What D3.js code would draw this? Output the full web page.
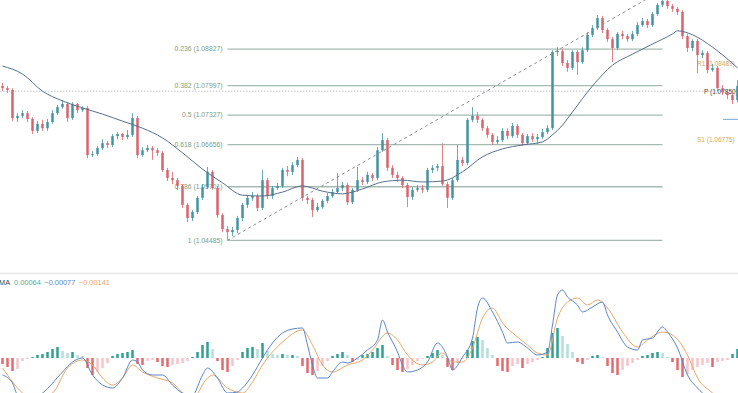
<!DOCTYPE html>
<html><head><meta charset="utf-8">
<script src="https://cdn.jsdelivr.net/npm/d3@7"></script>
<style>html,body{margin:0;padding:0;background:#fff;overflow:hidden}svg{display:block;font-family:Arial,"Liberation Sans",sans-serif}</style>
</head><body><svg id="c" width="738" height="393"></svg>
<script>
const opens = [1.0799,1.0794,1.0790,1.0726,1.0731,1.0737,1.0724,1.0697,1.0713,1.0703,1.0717,1.0737,1.0751,1.0758,1.0726,1.0758,1.0744,1.0749,1.0642,1.0644,1.0658,1.0669,1.0665,1.0685,1.0690,1.0683,1.0688,1.0726,1.0642,1.0653,1.0658,1.0653,1.0647,1.0608,1.0590,1.0585,1.0572,1.0529,1.0499,1.0513,1.0545,1.0569,1.0604,1.0567,1.0506,1.0474,1.0467,1.0472,1.0499,1.0529,1.0545,1.0549,1.0522,1.0585,1.0549,1.0567,1.0572,1.0608,1.0604,1.0619,1.0631,1.0545,1.0540,1.0517,1.0524,1.0538,1.0549,1.0558,1.0567,1.0574,1.0535,1.0563,1.0585,1.0581,1.0597,1.0590,1.0653,1.0676,1.0613,1.0597,1.0590,1.0574,1.0547,1.0563,1.0567,1.0563,1.0608,1.0613,1.0617,1.0576,1.0545,1.0585,1.0631,1.0624,1.0722,1.0731,1.0722,1.0703,1.0688,1.0672,1.0676,1.0697,1.0685,1.0708,1.0688,1.0669,1.0685,1.0678,1.0683,1.0694,1.0703,1.0876,1.0878,1.0851,1.0840,1.0876,1.0853,1.0880,1.0915,1.0930,1.0953,1.0926,1.0905,1.0885,1.0917,1.0912,1.0905,1.0917,1.0937,1.0946,1.0937,1.0962,1.0983,1.0992,1.0980,1.0974,1.0967,1.0912,1.0885,1.0901,1.0869,1.0874,1.0835,1.0840,1.0794,1.0785,1.0778,1.0767];
const closes = [1.0794,1.0790,1.0726,1.0731,1.0737,1.0724,1.0697,1.0713,1.0703,1.0717,1.0737,1.0751,1.0758,1.0726,1.0758,1.0744,1.0749,1.0642,1.0644,1.0658,1.0669,1.0665,1.0685,1.0690,1.0683,1.0688,1.0726,1.0642,1.0653,1.0658,1.0653,1.0647,1.0608,1.0590,1.0585,1.0572,1.0529,1.0499,1.0513,1.0545,1.0569,1.0604,1.0567,1.0506,1.0474,1.0467,1.0472,1.0499,1.0529,1.0545,1.0549,1.0522,1.0585,1.0549,1.0567,1.0572,1.0608,1.0604,1.0619,1.0631,1.0545,1.0540,1.0517,1.0524,1.0538,1.0549,1.0558,1.0567,1.0574,1.0535,1.0563,1.0585,1.0581,1.0597,1.0590,1.0653,1.0676,1.0613,1.0597,1.0590,1.0574,1.0547,1.0563,1.0567,1.0563,1.0608,1.0613,1.0617,1.0576,1.0545,1.0585,1.0631,1.0624,1.0722,1.0731,1.0722,1.0703,1.0688,1.0672,1.0676,1.0697,1.0685,1.0708,1.0688,1.0669,1.0685,1.0678,1.0683,1.0694,1.0703,1.0876,1.0878,1.0851,1.0840,1.0876,1.0853,1.0880,1.0915,1.0930,1.0953,1.0926,1.0905,1.0885,1.0917,1.0912,1.0905,1.0917,1.0937,1.0946,1.0937,1.0962,1.0983,1.0992,1.0980,1.0974,1.0967,1.0912,1.0885,1.0901,1.0869,1.0874,1.0835,1.0840,1.0794,1.0785,1.0778,1.0767,1.0799];
const highs = [1.0806,1.0799,1.0794,1.0737,1.0744,1.0742,1.0728,1.0719,1.0722,1.0724,1.0744,1.0756,1.0767,1.0762,1.0762,1.0760,1.0753,1.0753,1.0651,1.0663,1.0678,1.0674,1.0690,1.0694,1.0692,1.0699,1.0737,1.0731,1.0660,1.0665,1.0663,1.0658,1.0651,1.0613,1.0604,1.0590,1.0576,1.0533,1.0517,1.0549,1.0576,1.0615,1.0608,1.0572,1.0510,1.0481,1.0479,1.0504,1.0533,1.0551,1.0558,1.0554,1.0608,1.0590,1.0572,1.0579,1.0613,1.0617,1.0626,1.0638,1.0635,1.0549,1.0545,1.0533,1.0542,1.0556,1.0565,1.0601,1.0581,1.0579,1.0567,1.0615,1.0592,1.0604,1.0601,1.0660,1.0692,1.0681,1.0619,1.0604,1.0594,1.0579,1.0569,1.0574,1.0574,1.0613,1.0619,1.0622,1.0669,1.0581,1.0590,1.0665,1.0638,1.0726,1.0751,1.0740,1.0726,1.0708,1.0692,1.0685,1.0703,1.0703,1.0715,1.0713,1.0692,1.0690,1.0692,1.0690,1.0701,1.0710,1.0880,1.0887,1.0883,1.0858,1.0880,1.0880,1.0887,1.0921,1.0937,1.0960,1.0958,1.0930,1.0910,1.0921,1.0924,1.0917,1.0924,1.0944,1.0953,1.0951,1.0967,1.0987,1.10168,1.0996,1.0985,1.0978,1.0971,1.0917,1.0905,1.0905,1.0880,1.0878,1.0849,1.0844,1.0801,1.0792,1.0783,1.0812];
const lows = [1.0787,1.0783,1.0719,1.0717,1.0726,1.0717,1.0690,1.0692,1.0697,1.0697,1.0713,1.0733,1.0747,1.0717,1.0722,1.0737,1.0740,1.0635,1.0638,1.0640,1.0653,1.0658,1.0660,1.0678,1.0676,1.0678,1.0683,1.0635,1.0638,1.0649,1.0631,1.0640,1.0604,1.0583,1.0576,1.0563,1.0522,1.0490,1.0492,1.0508,1.0540,1.0565,1.0563,1.0499,1.0467,1.04485,1.0458,1.0465,1.0492,1.0522,1.0538,1.0515,1.0517,1.0542,1.0542,1.0563,1.0567,1.0594,1.0597,1.0615,1.0538,1.0531,1.0501,1.0513,1.0520,1.0533,1.0545,1.0554,1.0560,1.0529,1.0531,1.0558,1.0574,1.0576,1.0583,1.0585,1.0649,1.0606,1.0590,1.0581,1.0567,1.0524,1.0540,1.0558,1.0556,1.0558,1.0601,1.0606,1.0572,1.0522,1.0540,1.0581,1.0617,1.0619,1.0717,1.0715,1.0697,1.0681,1.0665,1.0667,1.0672,1.0678,1.0681,1.0681,1.0663,1.0665,1.0672,1.0667,1.0678,1.0690,1.0699,1.0867,1.0844,1.0831,1.0835,1.0824,1.0849,1.0876,1.0910,1.0926,1.0919,1.0899,1.0853,1.0880,1.0905,1.0899,1.0901,1.0912,1.0933,1.0930,1.0933,1.0958,1.0978,1.0974,1.0967,1.0960,1.0905,1.0876,1.0878,1.0828,1.0862,1.0828,1.0831,1.0787,1.0778,1.0769,1.0758,1.0762];

const maIndex  = [0,4,8,12,16,20,24,28,32,36,40,44,48,52,56,60,64,68,72,76,80,84,88,92,96,100,104,108,110,112,114,118,122,126,130,134,135,138,142,147];
const maValues = [1.0844,1.0826,1.0787,1.0765,1.0749,1.0735,1.0719,1.0703,1.0681,1.0647,1.0610,1.0579,1.0551,1.0549,1.0558,1.0572,1.0560,1.0554,1.0565,1.0581,1.0585,1.0581,1.0583,1.0604,1.0638,1.0656,1.0665,1.0672,1.0688,1.0710,1.0740,1.0799,1.0846,1.0871,1.0894,1.0917,1.0924,1.0915,1.0887,1.0840];

const fibRatios = ["0.236","0.382","0.5","0.618","0.786","1"];
const fibPrices = [1.08827,1.07997,1.07327,1.06656,1.05701,1.04485];

const pivotNames  = ["R1","P","S1"];
const pivotPrices = [1.08489,1.07850,1.06775];
const lastPrice = 1.0787;
const pivotLinePrice = 1.0723;

const histogram = [-0.00012,-0.00018,-0.00026,-0.00022,-0.00006,-0.00002,0.00002,0.00006,0.00008,0.00012,0.00018,0.00022,0.00014,0.00010,0.00012,0.00006,0.00004,-0.00020,-0.00034,-0.00028,-0.00020,-0.00010,0.00004,0.00008,0.00010,0.00012,0.00016,-0.00012,-0.00014,-0.00006,-0.00004,-0.00008,-0.00016,-0.00018,-0.00014,-0.00012,-0.00010,-0.00006,0.00002,0.00012,0.00026,0.00032,0.00018,-0.00006,-0.00024,-0.00028,-0.00016,-0.00004,0.00012,0.00020,0.00022,0.00018,0.00030,0.00014,0.00008,0.00006,0.00008,0.00006,0.00006,0.00004,-0.00016,-0.00030,-0.00034,-0.00026,-0.00016,-0.00006,0.00004,0.00008,0.00012,0.00006,-0.00008,-0.00004,0.00006,0.00008,0.00012,0.00020,0.00026,0.00004,-0.00014,-0.00024,-0.00028,-0.00022,-0.00014,-0.00006,-0.00002,0.00004,0.00010,0.00016,0.00006,-0.00018,-0.00024,-0.00010,-0.00002,0.00016,0.00034,0.00042,0.00036,0.00020,0.00006,-0.00016,-0.00026,-0.00028,-0.00016,-0.00012,-0.00020,-0.00012,-0.00008,-0.00004,0.00002,0.00020,0.00050,0.00060,0.00044,0.00028,0.00012,-0.00008,-0.00012,-0.00004,0.00004,0.00006,0.00002,-0.00016,-0.00030,-0.00034,-0.00024,-0.00016,-0.00010,-0.00004,0.00004,0.00006,0.00010,0.00012,0.00010,0.00002,-0.00008,-0.00024,-0.00038,-0.00032,-0.00024,-0.00018,-0.00014,-0.00010,-0.00018,-0.00008,-0.00006,-0.00004,0.00008,0.00018];

const macdIndex  = [0,2,3,5,8,12,14,16,18,20,22,24,26,27,28,30,32,34,36,38,40,41,43,45,47,48,50,52,54,56,58,60,61,62,63,65,66,68,69,71,73,75,76,77,79,80,81,83,85,87,89,90,92,94,95,96,98,100,101,103,105,107,109,110,111,112,113,115,116,118,120,121,123,125,127,128,130,132,133,135,137,139,140,142,147];
const macdValues = [-0.00034,-0.00050,-0.00074,-0.00084,-0.00070,-0.00028,-0.00008,0.00000,-0.00034,-0.00054,-0.00060,-0.00040,-0.00004,-0.00008,-0.00024,-0.00034,-0.00034,-0.00054,-0.00070,-0.00074,-0.00034,-0.00020,-0.00040,-0.00070,-0.00068,-0.00060,-0.00034,0.00000,0.00030,0.00050,0.00058,0.00060,0.00026,-0.00014,-0.00040,-0.00040,-0.00028,-0.00008,-0.00010,0.00000,0.00016,0.00036,0.00076,0.00052,0.00012,-0.00014,-0.00028,-0.00024,-0.00008,0.00030,0.00002,-0.00024,0.00002,0.00040,0.00100,0.00120,0.00092,0.00052,0.00030,0.00032,0.00020,0.00006,0.00012,0.00066,0.00126,0.00136,0.00122,0.00106,0.00092,0.00102,0.00112,0.00086,0.00052,0.00022,0.00016,0.00036,0.00040,0.00062,0.00052,0.00020,-0.00034,-0.00060,-0.00070,-0.00084,-0.00104];
const signalIndex  = [0,4,6,10,13,16,18,20,22,24,26,28,31,34,36,38,41,42,45,48,50,52,56,60,62,64,66,69,72,74,77,79,81,84,86,88,90,92,94,96,98,100,103,105,107,109,111,113,115,117,119,121,124,127,129,132,134,137,139,142,147];
const signalValues = [-0.00020,-0.00070,-0.00084,-0.00070,-0.00020,-0.00004,-0.00014,-0.00040,-0.00054,-0.00040,-0.00014,-0.00028,-0.00040,-0.00050,-0.00070,-0.00080,-0.00040,-0.00034,-0.00060,-0.00070,-0.00048,-0.00014,0.00032,0.00056,0.00026,-0.00014,-0.00028,-0.00014,-0.00004,0.00016,0.00050,0.00036,0.00006,-0.00014,-0.00008,0.00010,-0.00008,-0.00008,0.00020,0.00080,0.00100,0.00070,0.00042,0.00026,0.00010,0.00006,0.00080,0.00112,0.00120,0.00106,0.00116,0.00100,0.00052,0.00022,0.00036,0.00052,0.00046,0.00006,-0.00040,-0.00070,-0.00114];
const macdLegendName = "MA";
const macdLegend = ["0.00064","\u22120.00077","\u22120.00141"];

(function () {
const W = 738, H = 393;
const svg = d3.select("#c");
const N = closes.length;
const x = d3.scaleBand().domain(d3.range(N)).range([0, 740]).paddingInner(0.5).paddingOuter(0.25);
const cx = i => x(i) + x.bandwidth() / 2;
const y = d3.scaleLinear().domain([1.0380, 1.0994]).range([270.5, 0]);
const my = d3.scaleLinear().domain([-0.0007, 0.00166]).range([393, 275]);

const UP = "#4394a3", DOWN = "#d9646d";
const defs = svg.append("defs");
defs.append("clipPath").attr("id", "clipTop").append("rect").attr("x", 0).attr("y", 0).attr("width", W).attr("height", 272);
defs.append("clipPath").attr("id", "clipBot").append("rect").attr("x", 0).attr("y", 276).attr("width", W).attr("height", H - 276);

const topG = svg.append("g").attr("clip-path", "url(#clipTop)");

const lowIdx = d3.minIndex(lows), highIdx = d3.maxIndex(highs);
const fib = fibRatios.map((r, k) => ({ r, p: fibPrices[k] }));
topG.selectAll(".fibline").data(fib).join("line")
  .attr("x1", cx(lowIdx)).attr("x2", cx(highIdx))
  .attr("y1", d => y(d.p)).attr("y2", d => y(d.p))
  .attr("stroke", "#a5bbb0").attr("stroke-width", 1.3);
topG.selectAll(".fiblabel").data(fib).join("text")
  .attr("x", cx(lowIdx) - 5).attr("y", d => y(d.p))
  .attr("dy", "0.35em").attr("text-anchor", "end")
  .attr("font-size", 6.8).attr("fill", "#7d9e80")
  .text(d => `${d.r} (${d.p.toFixed(5)})`);

topG.append("line").attr("x1", 0).attr("x2", W).attr("y1", y(lastPrice)).attr("y2", y(lastPrice))
  .attr("stroke", "#bfc4c8").attr("stroke-width", 1).attr("stroke-dasharray", "1.5,1.5");

const pivX = [697, 704, 697];
const pivColor = ["#d7a85c", "#444", "#d7a85c"];
topG.selectAll(".piv").data(pivotNames).join("text")
  .attr("x", (d, k) => pivX[k]).attr("y", (d, k) => y(pivotPrices[k]))
  .attr("dy", "0.35em").attr("font-size", 6.5).attr("fill", (d, k) => pivColor[k])
  .text((d, k) => `${d} (${pivotPrices[k].toFixed(5)})`);
topG.append("line").attr("x1", 723).attr("x2", W).attr("y1", y(pivotLinePrice)).attr("y2", y(pivotLinePrice))
  .attr("stroke", "#8fb6dc").attr("stroke-width", 1.2);

const cand = d3.range(N).map(i => ({ i, o: opens[i], h: highs[i], l: lows[i], c: closes[i] }));
const cg = topG.append("g");
cg.selectAll(".wick").data(cand).join("line")
  .attr("x1", d => cx(d.i)).attr("x2", d => cx(d.i))
  .attr("y1", d => y(d.h)).attr("y2", d => y(d.l))
  .attr("stroke", d => d.c >= d.o ? UP : DOWN).attr("stroke-width", 0.8);
cg.selectAll(".body").data(cand).join("rect")
  .attr("x", d => x(d.i)).attr("width", x.bandwidth())
  .attr("y", d => y(Math.max(d.o, d.c)))
  .attr("height", d => Math.max(1, Math.abs(y(d.o) - y(d.c))))
  .attr("fill", d => d.c >= d.o ? UP : DOWN);

topG.append("path").datum(maIndex.map((k, j) => [k, maValues[j]]))
  .attr("fill", "none").attr("stroke", "#56708d").attr("stroke-width", 1)
  .attr("d", d3.line().x(d => cx(d[0])).y(d => y(d[1])).curve(d3.curveMonotoneX));

topG.append("line")
  .attr("x1", cx(lowIdx)).attr("y1", y(lows[lowIdx]))
  .attr("x2", cx(highIdx)).attr("y2", y(highs[highIdx]))
  .attr("stroke", "#8c9296").attr("stroke-width", 1).attr("stroke-dasharray", "3,3");

svg.append("line").attr("x1", 0).attr("x2", W).attr("y1", 273.5).attr("y2", 273.5)
  .attr("stroke", "#ececec").attr("stroke-width", 2);

const bot = svg.append("g").attr("clip-path", "url(#clipBot)");
const histCol = (v, i) => {
  const prev = i > 0 ? histogram[i - 1] : v;
  if (v >= 0) return v >= prev ? "#2fa193" : "#b3e0db";
  return v <= prev ? "#e36a6f" : "#f7c4c9";
};
bot.selectAll(".hist").data(histogram).join("rect")
  .attr("x", (v, i) => x(i)).attr("width", x.bandwidth())
  .attr("y", v => Math.min(my(v), my(0)))
  .attr("height", v => Math.abs(my(v) - my(0)))
  .attr("fill", (v, i) => histCol(v, i));

const ml = d3.line().x(d => cx(d[0])).y(d => my(d[1])).curve(d3.curveMonotoneX);
bot.append("path").datum(signalIndex.map((k, j) => [k, signalValues[j]]))
  .attr("fill", "none").attr("stroke", "#e9a867").attr("stroke-width", 1).attr("d", ml);
bot.append("path").datum(macdIndex.map((k, j) => [k, macdValues[j]]))
  .attr("fill", "none").attr("stroke", "#5a86c9").attr("stroke-width", 1).attr("d", ml);

const lg = svg.append("text").attr("x", -1).attr("y", 284.5).attr("font-size", 7.4);
lg.append("tspan").attr("fill", "#444").text(macdLegendName);
const legCol = ["#4fb0a6", "#5a86c9", "#e9a867"];
macdLegend.forEach((t, k) => lg.append("tspan").attr("dx", k === 0 ? 4 : 3.5).attr("fill", legCol[k]).text(t));
})();
</script>
</body></html>
